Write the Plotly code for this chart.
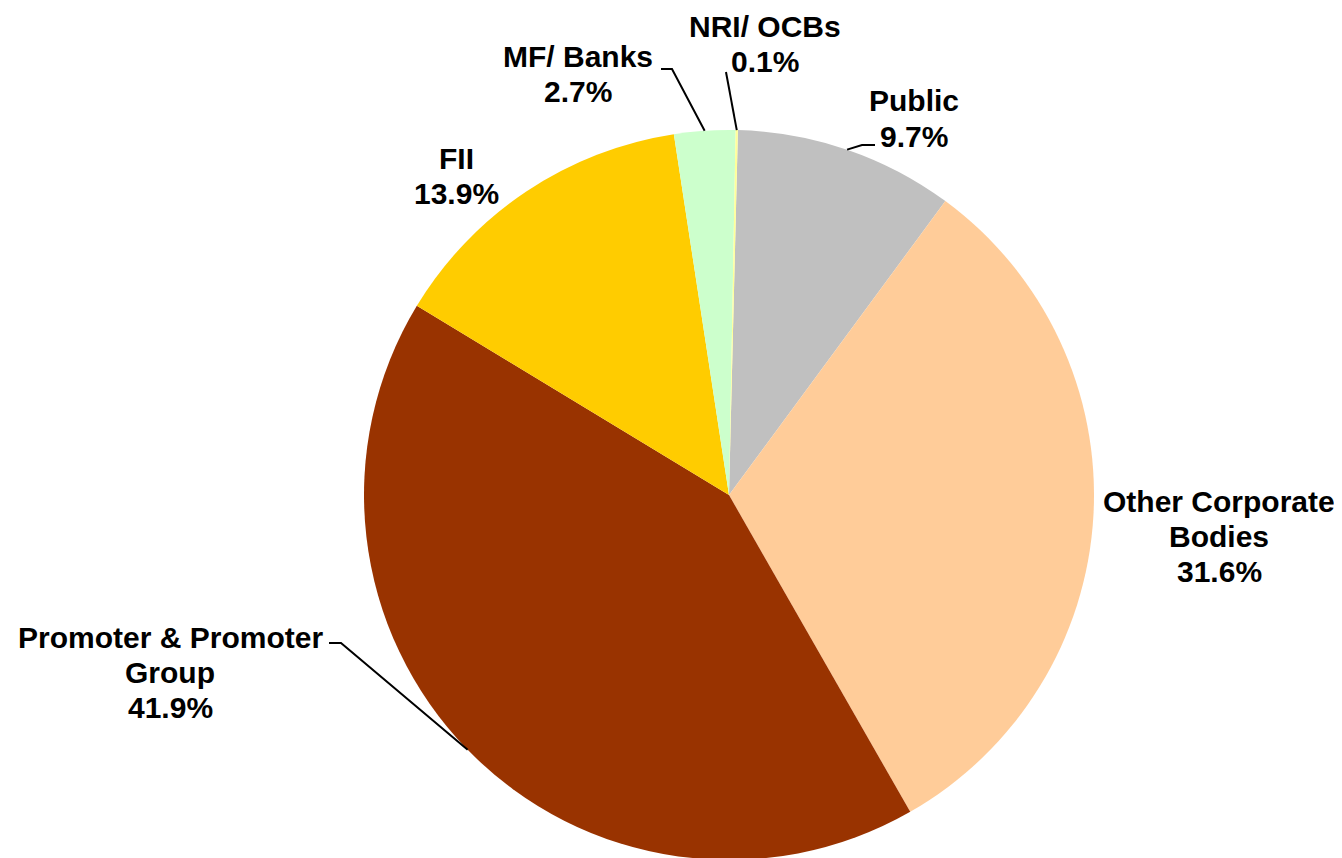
import math
import plotly.graph_objects as go

# ---- data ----
categories = ["Public", "Other Corporate Bodies", "Promoter & Promoter Group",
              "FII", "MF/ Banks", "NRI/ OCBs"]
shares = [9.7, 31.6, 41.9, 13.9, 2.7, 0.1]
label_lines = [["Public"], ["Other Corporate", "Bodies"], ["Promoter & Promoter", "Group"],
               ["FII"], ["MF/ Banks"], ["NRI/ OCBs"]]
colors = ["#C0C0C0", "#FFCC99", "#993300", "#FFCC00", "#CCFFCC", "#FFFF99"]

# ---- layout geometry (pixels, screen coords) ----
W, H = 1342, 870
OFF = 8  # page body margin
CX, CY, R = 729, 495, 365
ROT = 1.4

# label text centre (px) for first line; leader elbow (px) or None
label_pos = [(914, 101), (1219, 501), (170, 637), (456, 159), (578, 56), (765, 26)]
elbows = [[(862, 145), (875, 145)], None, [(341, 643), (329, 643)], None,
          [(672, 69), (661, 69)], [(726, 72)]]
LINE_STEP = 35
FONT = dict(family="Liberation Sans, Arial, sans-serif", size=30, color="black")


def px2paper(x, y):
    return (x - OFF) / W, 1 - (y - OFF) / H


x0, y1 = px2paper(CX - R, CY - R)
x1, y0 = px2paper(CX + R, CY + R)

fig = go.Figure(go.Pie(
    labels=categories, values=shares, sort=False, direction="clockwise",
    rotation=ROT, marker=dict(colors=colors, line=dict(width=0)),
    textinfo="none", showlegend=False,
    domain=dict(x=[x0, x1], y=[y0, y1]),
))

annotations = []
shapes = []
total = sum(shares)
cum = 0.0
for i, v in enumerate(shares):
    mid = ROT + (cum + v / 2) / total * 360
    cum += v
    lx, ly = label_pos[i]
    lines = [f"<b>{t}</b>" for t in label_lines[i]] + [f"<b>{v:.1f}%</b>"]
    for k, t in enumerate(lines):
        ax, ay = px2paper(lx, ly + k * LINE_STEP)
        annotations.append(dict(x=ax, y=ay, xref="paper", yref="paper", text=t,
                                showarrow=False, xanchor="center", yanchor="middle",
                                font=FONT))
    if elbows[i] is not None:
        a = math.radians(mid)
        ex, ey = CX + R * math.sin(a), CY - R * math.cos(a)
        pts = [(ex, ey)] + elbows[i]
        path = "M " + " L ".join(f"{px2paper(x, y)[0]:.5f},{px2paper(x, y)[1]:.5f}" for x, y in pts)
        shapes.append(dict(type="path", path=path, xref="paper", yref="paper",
                           line=dict(color="black", width=2)))

fig.update_layout(
    width=W, height=H, margin=dict(l=0, r=0, t=0, b=0),
    paper_bgcolor="white", plot_bgcolor="white",
    annotations=annotations, shapes=shapes,
)

fig.write_html("out.html")
